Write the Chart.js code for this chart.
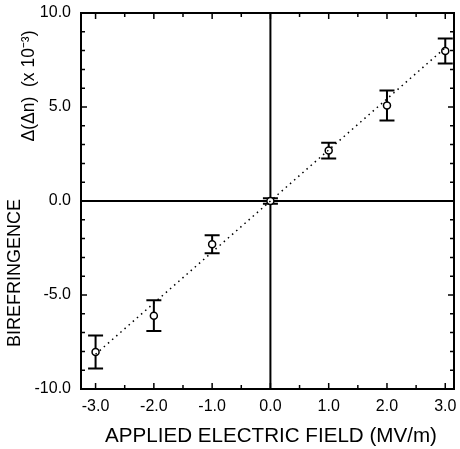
<!DOCTYPE html>
<html>
<head>
<meta charset="utf-8">
<script src="https://cdn.jsdelivr.net/npm/chart.js@4.4.1/dist/chart.umd.min.js"></script>
<style>
  html, body { margin: 0; padding: 0; background: #fff; }
  #wrap { width: 460px; height: 449px; }
</style>
</head>
<body>
<div id="wrap"><canvas id="birefringence-canvas"></canvas></div>
<script>
// measured values (field in MV/m, birefringence x 10^-3)
var fieldValues = [-3, -2, -1, 0, 1, 2, 3];
var biValues = [-8.03, -6.1, -2.3, 0.0, 2.68, 5.08, 7.98];
var biErrors = [0.88, 0.82, 0.48, 0.15, 0.42, 0.8, 0.67];

// dotted linear fit
var fitX = [-3, 3];
var fitY = [-8.15, 8.15];

// tick labels
var xTickValues = [-3, -2, -1, 0, 1, 2, 3];
var yTickValues = [-10, -5, 0, 5, 10];

var fontName = "'Liberation Sans', Arial, sans-serif";

var pointData = fieldValues.map(function(x, i){ return {x: x, y: biValues[i]}; });
var fitData = fitX.map(function(x, i){ return {x: x, y: fitY[i]}; });

// error bars, zero lines, inner ticks, frame and axis titles
var framePlugin = {
    id: "frame",
    beforeDatasetsDraw: function(chart){
        var c = chart.ctx, a = chart.chartArea;
        var xs = chart.scales.x, ys = chart.scales.y;
        c.save();
        c.strokeStyle = "#000";
        c.lineWidth = 2;
        var x0 = xs.getPixelForValue(0), y0 = ys.getPixelForValue(0);
        c.beginPath();
        c.moveTo(a.left, y0); c.lineTo(a.right, y0);
        c.moveTo(x0, a.top); c.lineTo(x0, a.bottom);
        c.stroke();

        // error bars
        fieldValues.forEach(function(x, i){
            var px = xs.getPixelForValue(x);
            var top = ys.getPixelForValue(biValues[i] + biErrors[i]);
            var bot = ys.getPixelForValue(biValues[i] - biErrors[i]);
            c.beginPath();
            c.moveTo(px, top); c.lineTo(px, bot);
            c.moveTo(px - 7.5, top); c.lineTo(px + 7.5, top);
            c.moveTo(px - 7.5, bot); c.lineTo(px + 7.5, bot);
            c.stroke();
        });
        c.restore();
    },
    afterDraw: function(chart){
        var c = chart.ctx, a = chart.chartArea;
        var xs = chart.scales.x, ys = chart.scales.y;
        c.save();
        c.strokeStyle = "#000";
        c.lineWidth = 1.5;
        c.beginPath();
        var v, p, len;
        for (v = -3; v <= 3.001; v += 0.5) {
            p = xs.getPixelForValue(v);
            len = Math.abs(v % 1) < 0.01 ? 6 : 4;
            c.moveTo(p, a.bottom); c.lineTo(p, a.bottom - len);
            c.moveTo(p, a.top); c.lineTo(p, a.top + len);
        }
        for (v = -10; v <= 10; v += 1) {
            p = ys.getPixelForValue(v);
            len = v % 5 === 0 ? 6 : 4;
            c.moveTo(a.left, p); c.lineTo(a.left + len, p);
            c.moveTo(a.right, p); c.lineTo(a.right - len, p);
        }
        c.stroke();

        c.lineWidth = 2;
        c.strokeRect(a.left, a.top, a.right - a.left, a.bottom - a.top);

        // axis titles
        c.fillStyle = "#000";
        c.textAlign = "center";
        c.textBaseline = "middle";
        c.font = "20.6px " + fontName;
        c.fillText("APPLIED ELECTRIC FIELD (MV/m)", 271, 436);

        c.save();
        c.translate(15, 273);
        c.rotate(-Math.PI / 2);
        c.font = "18px " + fontName;
        c.fillText("BIREFRINGENCE", 0, 0);
        c.restore();

        c.save();
        c.translate(29, 86);
        c.rotate(-Math.PI / 2);
        c.font = "17.5px " + fontName;
        c.fillText("\u0394(\u0394n)  (x 10\u207B\u00B3)", 0, 0);
        c.restore();
        c.restore();
    }
};

var ctx1 = document.getElementById("birefringence-canvas");

var chart1 = new Chart(ctx1, {
    type: "scatter",
    data: {
        datasets: [
            {
                label: "fit",
                data: fitData,
                showLine: true,
                borderColor: "#000",
                borderWidth: 1.5,
                borderDash: [1.5, 4],
                pointRadius: 0
            },
            {
                label: "birefringence",
                data: pointData,
                showLine: false,
                pointRadius: 3.5,
                pointBorderWidth: 1.5,
                pointBorderColor: "#000",
                pointBackgroundColor: "#fff"
            }
        ]
    },
    options: {
        responsive: true,
        maintainAspectRatio: false,
        animation: false,
        layout: { padding: { top: 13, right: 6, left: 0, bottom: 0 } },
        plugins: {
            legend: { display: false },
            tooltip: { enabled: false }
        },
        scales: {
            x: {
                type: "linear",
                min: -3.25,
                max: 3.15,
                grid: { display: false, drawTicks: false },
                border: { display: false },
                afterBuildTicks: function(scale){
                    scale.ticks = xTickValues.map(function(v){ return {value: v}; });
                },
                afterFit: function(scale){
                    scale.height = 60;
                    scale.paddingLeft = 0;
                    scale.paddingRight = 0;
                },
                ticks: {
                    padding: 8,
                    color: "#000",
                    font: { family: fontName, size: 16 },
                    maxRotation: 0,
                    callback: function(v){ return v.toFixed(1); }
                }
            },
            y: {
                type: "linear",
                min: -10,
                max: 10,
                grid: { display: false, drawTicks: false },
                border: { display: false },
                afterBuildTicks: function(scale){
                    scale.ticks = yTickValues.map(function(v){ return {value: v}; });
                },
                afterFit: function(scale){
                    scale.width = 81;
                    scale.paddingTop = 0;
                    scale.paddingBottom = 0;
                },
                ticks: {
                    padding: 10,
                    color: "#000",
                    font: { family: fontName, size: 16 },
                    callback: function(v){ return v.toFixed(1); }
                }
            }
        }
    },
    plugins: [framePlugin]
});
</script>
</body>
</html>
